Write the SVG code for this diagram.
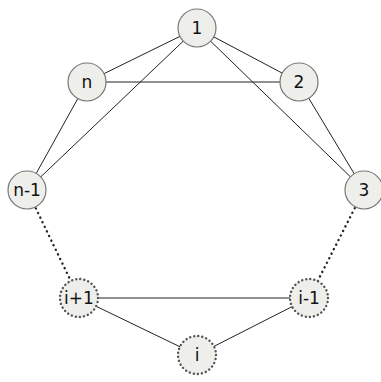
<svg xmlns="http://www.w3.org/2000/svg" width="381" height="382" viewBox="0 0 381 382">
<style>
.n circle{fill:#eeeeea;stroke:#777;stroke-width:1.2}
.d circle{fill:#eeeeea;stroke:#555;stroke-width:2.4;stroke-dasharray:0.1 4;stroke-linecap:round}
text{font-family:"DejaVu Sans",sans-serif;font-size:17px;fill:#111;text-anchor:middle;dominant-baseline:central}
.e line{stroke:#222;stroke-width:1}
.e line.dot{stroke-width:2.4;stroke-dasharray:0.1 5;stroke-linecap:round}
</style>
<rect width="381" height="382" fill="#fff"/>
<g class="e" id="connectors">
<line x1="197" y1="28" x2="87" y2="82"/>
<line x1="197" y1="28" x2="299" y2="82"/>
<line x1="197" y1="28" x2="27" y2="190"/>
<line x1="197" y1="28" x2="364" y2="190"/>
<line x1="87" y1="82" x2="299" y2="82"/>
<line x1="87" y1="82" x2="27" y2="190"/>
<line x1="299" y1="82" x2="364" y2="190"/>
<line class="dot" x1="27" y1="190" x2="79" y2="298"/>
<line class="dot" x1="364" y1="190" x2="309" y2="298"/>
<line x1="79" y1="298" x2="309" y2="298"/>
<line x1="79" y1="298" x2="197" y2="355"/>
<line x1="309" y1="298" x2="197" y2="355"/>
</g>
<g id="node-1" class="n"><circle cx="197" cy="28" r="19"/><text x="197" y="28">1</text></g>
<g id="node-n" class="n"><circle cx="87" cy="82" r="19"/><text x="87" y="82">n</text></g>
<g id="node-2" class="n"><circle cx="299" cy="82" r="19"/><text x="299" y="82">2</text></g>
<g id="node-n-1" class="n"><circle cx="27" cy="190" r="19"/><text x="27" y="190">n-1</text></g>
<g id="node-3" class="n"><circle cx="364" cy="190" r="19"/><text x="364" y="190">3</text></g>
<g id="node-i+1" class="d"><circle cx="79" cy="298" r="19"/><text x="79" y="298">i+1</text></g>
<g id="node-i-1" class="d"><circle cx="309" cy="298" r="19"/><text x="309" y="298">i-1</text></g>
<g id="node-i" class="d"><circle cx="197" cy="355" r="19"/><text x="197" y="355">i</text></g>
</svg>
